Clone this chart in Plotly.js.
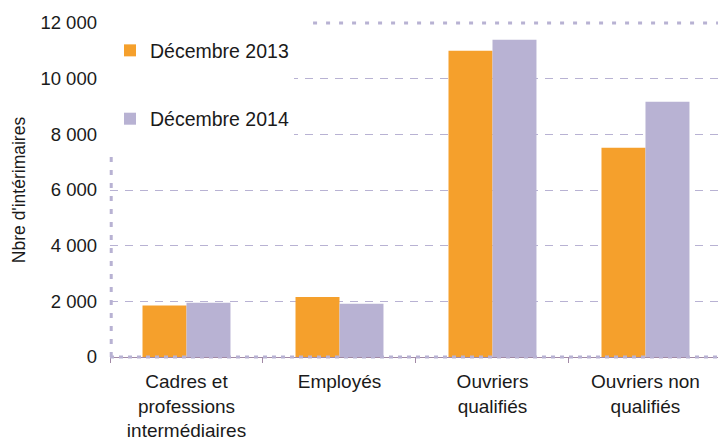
<!DOCTYPE html>
<html>
<head>
<meta charset="utf-8">
<script src="https://cdn.plot.ly/plotly-3.0.1.min.js"></script>
<style>html,body{margin:0;padding:0;background:#fff;}#chart{width:718px;height:441px;}</style>
</head>
<body>
<div id="chart"></div>
<script>
const categories = ['Cadres et professions intermédiaires', 'Employés', 'Ouvriers qualifiés', 'Ouvriers non qualifiés'];
const tickLabels = ['Cadres et<br>professions<br>intermédiaires', 'Employés', 'Ouvriers<br>qualifiés', 'Ouvriers non<br>qualifiés'];
const seriesNames = ['Décembre 2013', 'Décembre 2014'];
const dec2013 = [1850, 2160, 11000, 7520];
const dec2014 = [1950, 1910, 11400, 9170];
const yTicks = [0, 2000, 4000, 6000, 8000, 10000, 12000];

const FONT = 'Liberation Sans, Arial, sans-serif';
const grid = '#b8b2d3';

const traces = [
  {type: 'bar', name: seriesNames[0], x: categories, y: dec2013, marker: {color: '#f5a02c'}, legendgroup: 'a', hoverinfo: 'x+y'},
  {type: 'bar', name: seriesNames[1], x: categories, y: dec2014, marker: {color: '#b8b2d3'}, legendgroup: 'b', hoverinfo: 'x+y'}
];

const layout = {
  width: 718, height: 441,
  margin: {l: 110, r: 0, t: 23, b: 84},
  paper_bgcolor: '#ffffff', plot_bgcolor: '#ffffff',
  font: {family: FONT, color: '#1a1a1a', size: 18.5},
  separators: ', ',
  barmode: 'group', bargap: 0.425, bargroupgap: 0,
  showlegend: true,
  legend: {
    x: 0, xanchor: 'left', y: 1.03, yanchor: 'top',
    bgcolor: '#ffffff', borderwidth: 0,
    font: {family: FONT, size: 19.5, color: '#1a1a1a'},
    tracegroupgap: 40, traceorder: 'grouped',
    title: {text: ' ', font: {size: 14}}
  },
  xaxis: {
    type: 'category',
    range: [-0.5, 3.474],
    tickmode: 'array', tickvals: categories, ticktext: tickLabels,
    tickson: 'boundaries', ticks: 'outside', ticklen: 5, tickcolor: '#a28aa6', tickwidth: 1,
    showline: true, linecolor: '#a28aa6', linewidth: 1,
    showgrid: false, zeroline: false,
    ticklabelstandoff: 7,
    tickfont: {family: FONT, size: 19, color: '#1a1a1a'}
  },
  yaxis: {
    range: [0, 12000], tickmode: 'array', tickvals: yTicks, tickformat: ',d',
    showgrid: true, gridcolor: grid, gridwidth: 1, griddash: '8px,7px',
    zeroline: false, showline: false, ticks: '',
    ticklabelstandoff: 12,
    tickfont: {family: FONT, size: 18.5, color: '#1a1a1a'},
    title: {text: "Nbre d'intérimaires", font: {family: FONT, size: 17.5, color: '#1a1a1a'}, standoff: 10}
  },
  shapes: [
    {type: 'rect', xref: 'paper', yref: 'paper', x0: 0, x1: 0.334, y0: 0.62, y1: 1.01,
     fillcolor: '#ffffff', line: {width: 0}, layer: 'between'},
    {type: 'line', xref: 'paper', yref: 'paper', x0: 0, x1: 1, y0: 0, y1: 0,
     line: {color: grid, width: 3, dash: '4px,5px'}, layer: 'above'},
    {type: 'line', xref: 'paper', yref: 'paper', x0: 0.334, x1: 1, y0: 1, y1: 1,
     line: {color: grid, width: 3, dash: '4px,9px'}, layer: 'above'},
    {type: 'line', xref: 'paper', yref: 'paper', x0: 0.002, x1: 0.002, y0: 0, y1: 0.611,
     line: {color: grid, width: 3, dash: '5px,8px'}, layer: 'above'}
  ]
};

Plotly.newPlot('chart', traces, layout, {displayModeBar: false, staticPlot: true});
</script>
</body>
</html>
